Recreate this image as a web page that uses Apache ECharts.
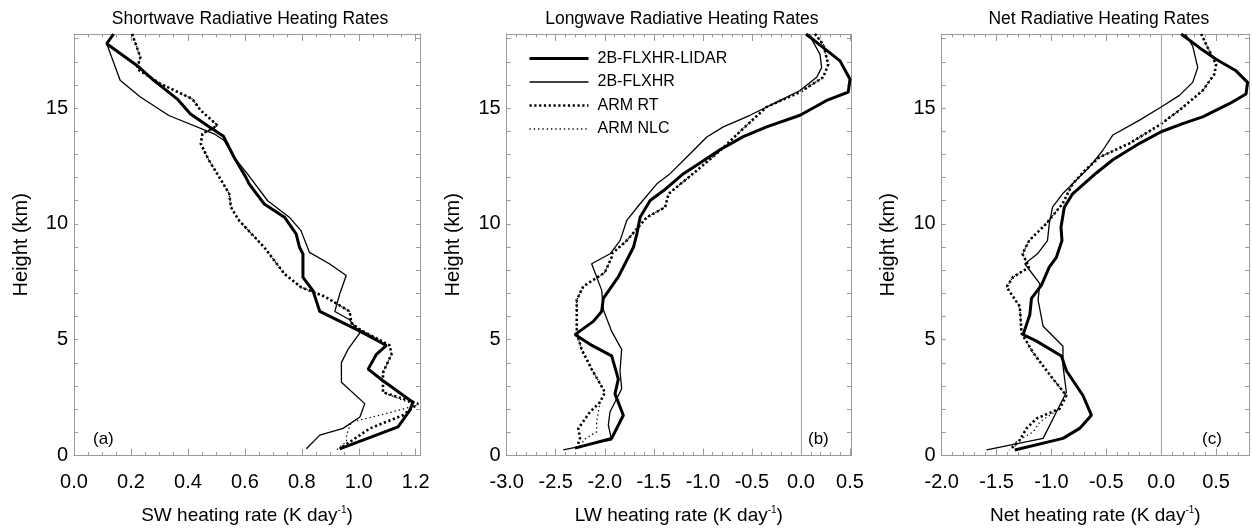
<!DOCTYPE html>
<html>
<head>
<meta charset="utf-8">
<title>Radiative Heating Rates</title>
<script src="https://cdn.jsdelivr.net/npm/echarts@6/dist/echarts.min.js"></script>
<style>
  html, body { margin: 0; padding: 0; background: #fff; }
  #main { width: 1252px; height: 530px; }
</style>
</head>
<body>
<div id="main"></div>
<script>
// series names
var names = ['2B-FLXHR-LIDAR', '2B-FLXHR', 'ARM RT', 'ARM NLC'];

// [heating rate, height km]
var swLidar = [[0.139,18.2],[0.115,17.78],[0.221,16.84],[0.28,16.2],[0.362,15.4],[0.409,14.75],[0.468,14.25],[0.525,13.78],[0.562,12.88],[0.604,12.0],[0.615,11.73],[0.668,10.86],[0.739,10.29],[0.78,9.57],[0.792,8.99],[0.804,8.7],[0.804,7.69],[0.839,7.12],[0.863,6.22],[1.004,5.37],[1.097,4.75],[1.062,4.37],[1.033,3.73],[1.085,3.23],[1.19,2.3],[1.179,1.95],[1.138,1.24],[0.933,0.29]];
var swFlxhr = [[0.139,18.2],[0.115,17.78],[0.162,16.2],[0.233,15.48],[0.333,14.68],[0.492,13.89],[0.527,13.6],[0.562,12.88],[0.609,12.16],[0.68,11.0],[0.756,10.29],[0.797,9.71],[0.827,8.77],[0.898,8.27],[0.956,7.77],[0.933,6.97],[0.916,6.22],[0.968,5.86],[1.004,5.29],[0.962,4.58],[0.939,4.01],[0.939,3.16],[1.021,2.24],[1.004,1.66],[0.945,1.17],[0.863,0.88],[0.816,0.29]];
var swArmRt = [[0.204,18.2],[0.233,17.2],[0.221,16.7],[0.304,16.05],[0.415,15.4],[0.445,14.9],[0.504,14.25],[0.451,13.89],[0.445,13.46],[0.474,12.74],[0.521,11.8],[0.545,11.3],[0.551,10.72],[0.58,10.14],[0.668,8.99],[0.739,7.84],[0.798,7.26],[0.881,6.86],[0.968,6.22],[0.974,5.72],[1.004,5.44],[1.109,4.75],[1.115,4.37],[1.085,3.58],[1.085,2.73],[1.208,2.24],[1.155,1.74],[1.039,1.17],[0.933,0.29]];
var swArmNlc = [[0.204,18.2],[0.233,17.2],[0.221,16.7],[0.304,16.05],[0.415,15.4],[0.445,14.9],[0.504,14.25],[0.451,13.89],[0.445,13.46],[0.474,12.74],[0.521,11.8],[0.545,11.3],[0.551,10.72],[0.58,10.14],[0.668,8.99],[0.739,7.84],[0.798,7.26],[0.881,6.86],[0.968,6.22],[0.974,5.72],[1.004,5.44],[1.109,4.75],[1.115,4.37],[1.085,3.58],[1.085,2.73],[1.202,2.16],[1.074,1.74],[0.974,1.45],[0.957,0.88],[0.957,0.6],[0.922,0.24]];

var lwLidar = [[0.051,18.2],[0.227,17.61],[0.398,17.04],[0.5,16.25],[0.482,15.69],[0.262,15.33],[-0.01,14.69],[-0.35,14.19],[-0.588,13.77],[-0.826,13.2],[-1.03,12.63],[-1.198,12.17],[-1.4,11.44],[-1.538,11.01],[-1.64,10.29],[-1.673,9.57],[-1.708,8.99],[-1.76,8.56],[-1.862,7.71],[-2.015,6.78],[-2.032,6.22],[-2.117,5.79],[-2.304,5.22],[-2.151,4.8],[-1.93,4.3],[-1.862,3.3],[-1.896,2.66],[-1.811,1.74],[-1.93,0.74],[-2.304,0.32]];
var lwFlxhr = [[0.08,18.2],[0.194,17.32],[0.211,16.75],[0.16,16.33],[-0.01,15.76],[-0.248,15.26],[-0.52,14.69],[-0.792,14.19],[-0.96,13.75],[-1.13,13.03],[-1.334,12.17],[-1.469,11.73],[-1.64,10.87],[-1.776,10.15],[-1.844,9.28],[-1.946,8.71],[-2.134,8.28],[-2.032,7.14],[-2.015,6.29],[-1.93,5.36],[-1.828,4.58],[-1.845,3.66],[-1.828,2.88],[-1.947,1.88],[-1.964,1.31],[-1.93,0.67],[-2.423,0.24]];
var lwArmRt = [[0.143,18.2],[0.227,17.75],[0.278,16.89],[0.227,16.33],[-0.01,15.69],[-0.35,15.05],[-0.588,14.12],[-0.823,13.17],[-1.06,12.31],[-1.35,11.3],[-1.385,10.72],[-1.571,10.29],[-1.776,9.28],[-1.929,8.71],[-1.93,8.56],[-2.0,7.9],[-2.22,7.3],[-2.286,6.72],[-2.286,5.29],[-2.236,4.58],[-2.134,3.73],[-1.998,2.73],[-2.049,2.3],[-2.151,1.88],[-2.27,1.17],[-2.253,0.74],[-2.286,0.32]];
var lwArmNlc = [[0.143,18.2],[0.227,17.75],[0.278,16.89],[0.227,16.33],[-0.01,15.69],[-0.35,15.05],[-0.588,14.12],[-0.823,13.17],[-1.06,12.31],[-1.35,11.3],[-1.385,10.72],[-1.571,10.29],[-1.776,9.28],[-1.929,8.71],[-1.93,8.56],[-2.0,7.9],[-2.22,7.3],[-2.286,6.72],[-2.286,5.29],[-2.236,4.58],[-2.134,3.73],[-1.998,2.73],[-2.049,2.3],[-2.083,1.45],[-2.083,1.02],[-2.219,0.67],[-2.236,0.38]];

var netLidar = [[0.182,18.2],[0.348,17.61],[0.5,17.11],[0.682,16.61],[0.787,16.11],[0.773,15.61],[0.621,15.19],[0.378,14.62],[0.196,14.33],[0,13.98],[-0.197,13.48],[-0.44,12.77],[-0.591,12.2],[-0.807,11.3],[-0.883,10.72],[-0.913,9.86],[-0.904,9.28],[-0.955,8.56],[-1.02,8.13],[-1.091,7.36],[-1.182,6.78],[-1.197,6.08],[-1.258,5.22],[-1.136,4.94],[-0.909,4.3],[-0.864,3.66],[-0.713,2.59],[-0.636,1.74],[-0.743,1.17],[-0.895,0.74],[-1.334,0.24]];
var netFlxhr = [[0.22,18.2],[0.287,17.68],[0.333,16.75],[0.287,16.11],[0.166,15.55],[0,15.05],[-0.197,14.48],[-0.44,13.84],[-0.533,13.17],[-0.655,12.45],[-0.776,11.88],[-0.899,11.3],[-0.99,10.72],[-1.02,10.0],[-1.036,9.28],[-1.127,8.71],[-1.243,8.28],[-1.106,7.42],[-1.122,6.72],[-1.076,5.58],[-0.895,4.72],[-0.895,3.87],[-0.864,2.73],[-0.97,1.74],[-1.076,0.74],[-1.591,0.24]];
var netArmRt = [[0.364,18.2],[0.424,17.61],[0.5,16.89],[0.485,16.47],[0.378,15.76],[0.166,14.91],[-0.015,14.27],[-0.288,13.48],[-0.563,12.88],[-0.69,12.33],[-0.807,11.73],[-0.899,10.87],[-1.05,10.0],[-1.203,9.28],[-1.264,8.71],[-1.203,8.13],[-1.349,7.71],[-1.409,7.28],[-1.288,6.43],[-1.273,5.29],[-1.167,4.44],[-0.985,3.3],[-0.864,2.59],[-0.925,2.02],[-1.136,1.6],[-1.227,1.17],[-1.288,0.67],[-1.379,0.24]];
var netArmNlc = [[0.364,18.2],[0.424,17.61],[0.5,16.89],[0.485,16.47],[0.378,15.76],[0.166,14.91],[-0.015,14.27],[-0.288,13.48],[-0.563,12.88],[-0.69,12.33],[-0.807,11.73],[-0.899,10.87],[-1.05,10.0],[-1.203,9.28],[-1.264,8.71],[-1.203,8.13],[-1.349,7.71],[-1.409,7.28],[-1.288,6.43],[-1.273,5.29],[-1.167,4.44],[-0.985,3.3],[-0.864,2.59],[-0.925,2.02],[-1.106,1.45],[-1.167,1.02],[-1.318,0.6],[-1.34,0.3]];

// panel text
var titles = ['Shortwave Radiative Heating Rates', 'Longwave Radiative Heating Rates', 'Net Radiative Heating Rates'];
var xNames = ['SW heating rate (K day{sup|-1})', 'LW heating rate (K day{sup|-1})', 'Net heating rate (K day{sup|-1})'];
var panelTags = ['(a)', '(b)', '(c)'];
// x axis ranges: min, max, label step, minor splits
var xMin = [0, -3, -2];
var xMax = [1.215, 0.51, 0.8];
var xStep = [0.2, 0.5, 0.5];
var xMinor = [4, 5, 5];
var yMax = 18.2;

var FONT = 'Liberation Sans, Arial, Helvetica, sans-serif';
var boxColor = '#9a9a9a';

// layout of the three plot boxes
var grids = [
  { left: 74, top: 34, width: 346, height: 426.7 },
  { left: 506.7, top: 34, width: 344.3, height: 426.7 },
  { left: 941.7, top: 34, width: 308.3, height: 426.7 }
];
var tagPos = [[93, 439], [808, 439], [1202, 439]];

var chart = echarts.init(document.getElementById('main'), null, { renderer: 'canvas' });

var xAxes = [], yAxes = [], series = [], titleList = [], graphics = [];

function onStep(v, step) {
  var r = v / step;
  return Math.abs(r - Math.round(r)) < 1e-6;
}

for (var i = 0; i < 3; i++) {
  (function (i) {
    var step = xStep[i];
    var baseX = {
      gridIndex: i, type: 'value', min: xMin[i], max: xMax[i], interval: step,
      axisLine: { show: true, onZero: false, lineStyle: { color: boxColor, width: 1 } },
      axisTick: { show: true, inside: true, length: 7, lineStyle: { color: boxColor } },
      minorTick: { show: true, splitNumber: xMinor[i], length: 3.5, lineStyle: { color: boxColor } },
      splitLine: { show: false }
    };
    xAxes.push(Object.assign({}, baseX, {
      position: 'bottom',
      name: xNames[i], nameLocation: 'middle', nameGap: 50,
      nameTextStyle: {
        fontFamily: FONT, fontSize: 19, color: '#000',
        rich: { sup: { fontFamily: FONT, fontSize: 10, color: '#000', padding: [0, 0, 10, 0] } }
      },
      axisLabel: {
        show: true, margin: 17, fontFamily: FONT, fontSize: 20, color: '#000',
        formatter: function (v) { return onStep(v, step) ? v.toFixed(1) : ''; }
      }
    }));
    xAxes.push(Object.assign({}, baseX, { position: 'top', axisLabel: { show: false } }));

    var baseY = {
      gridIndex: i, type: 'value', min: 0, max: yMax, interval: 1,
      axisLine: { show: true, onZero: false, lineStyle: { color: boxColor, width: 1 } },
      axisTick: { show: true, inside: true, length: 4, lineStyle: { color: boxColor } },
      splitLine: { show: false }
    };
    yAxes.push(Object.assign({}, baseY, {
      position: 'left',
      name: 'Height (km)', nameLocation: 'middle', nameGap: 43,
      nameTextStyle: { fontFamily: FONT, fontSize: 20, color: '#000' },
      axisLabel: {
        show: true, margin: 6, fontFamily: FONT, fontSize: 20, color: '#000',
        formatter: function (v) { return onStep(v, 5) ? String(Math.round(v)) : ''; }
      }
    }));
    yAxes.push(Object.assign({}, baseY, { position: 'right', axisLabel: { show: false } }));

    titleList.push({
      text: titles[i], left: grids[i].left + grids[i].width / 2 + 3, top: 10, textAlign: 'center', padding: 0,
      textStyle: { fontFamily: FONT, fontSize: 17.5, fontWeight: 'normal', color: '#000' }
    });

    graphics.push({
      type: 'text', x: tagPos[i][0], y: tagPos[i][1],
      style: { text: panelTags[i], font: '17px ' + FONT, fill: '#000', verticalAlign: 'middle' }
    });
  })(i);
}

var panelData = [
  [swArmNlc, swArmRt, swFlxhr, swLidar],
  [lwArmNlc, lwArmRt, lwFlxhr, lwLidar],
  [netArmNlc, netArmRt, netFlxhr, netLidar]
];
var order = [3, 2, 1, 0]; // draw NLC first, LIDAR last
var styles = {
  '2B-FLXHR-LIDAR': { color: '#000', width: 3, type: 'solid' },
  '2B-FLXHR': { color: '#000', width: 1.3, type: 'solid' },
  'ARM RT': { color: '#000', width: 2.6, type: [2.2, 2.6] },
  'ARM NLC': { color: '#000', width: 1.3, type: [1.3, 3] }
};

for (var p = 0; p < 3; p++) {
  for (var k = 0; k < 4; k++) {
    var nm = names[order[k]];
    var s = {
      name: nm, type: 'line', data: panelData[p][k],
      xAxisIndex: 2 * p, yAxisIndex: 2 * p,
      symbol: 'none', showSymbol: false, clip: true, animation: false,
      lineStyle: styles[nm], itemStyle: { color: '#000' }, z: 3 + k
    };
    if (p > 0 && k === 0) {
      s.markLine = {
        silent: true, symbol: ['none', 'none'], animation: false,
        label: { show: false },
        lineStyle: { color: '#a8a8a8', width: 1.2, type: 'solid' },
        data: [{ xAxis: 0 }]
      };
    }
    series.push(s);
  }
}

chart.setOption({
  backgroundColor: '#fff',
  animation: false,
  title: titleList,
  grid: grids,
  xAxis: xAxes,
  yAxis: yAxes,
  legend: {
    data: names, orient: 'vertical', left: 528, top: 50.5, padding: 0,
    itemWidth: 59, itemHeight: 14, itemGap: 7.5, selectedMode: false,
    itemStyle: { opacity: 0, borderWidth: 0 },
    lineStyle: { width: 'inherit', type: 'inherit', color: '#000' },
    textStyle: { fontFamily: FONT, fontSize: 16, color: '#000', padding: [0, 0, 0, 4] }
  },
  graphic: graphics,
  series: series
});
</script>
</body>
</html>
